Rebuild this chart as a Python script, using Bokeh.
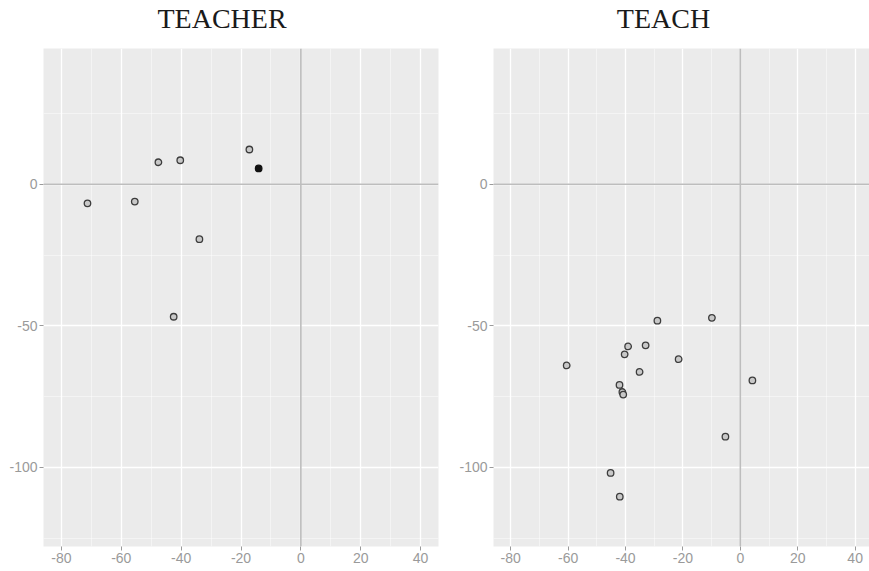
from bokeh.plotting import figure
from bokeh.layouts import row, column
from bokeh.models import FixedTicker, Span
from bokeh.core.properties import value
from bokeh.embed import file_html
from bokeh.resources import INLINE

# Panel titles
titles = ["TEACHER", "TEACH"]

# Axis ticks
x_ticks = [-80, -60, -40, -20, 0, 20, 40]
x_minor = [-70, -50, -30, -10, 10, 30]
y_ticks = [-100, -50, 0]
y_minor = [-125, -75, -25, 25]

# TEACHER coordinates
teacher_x = [-71.3, -55.5, -47.6, -40.3, -17.2, -33.9, -42.5]
teacher_y = [-6.7, -6.1, 7.8, 8.5, 12.3, -19.4, -46.8]
teacher_dark_x = [-14.1]
teacher_dark_y = [5.6]

# TEACH coordinates
teach_x = [-60.5, -45.2, -42.0, -42.1, -41.1, -40.8, -40.3, -39.1, -35.1,
           -33.0, -28.9, -21.5, -9.9, 4.2, -5.2]
teach_y = [-64.0, -102.0, -110.4, -70.9, -73.4, -74.3, -60.1, -57.3, -66.3,
           -56.9, -48.2, -61.8, -47.2, -69.3, -89.2]

PANEL_BG = "#ebebeb"
TICK_GREY = "#9a9a9a"
ZERO_GREY = "#bdbdbd"
HEAD_H = 48
FRAME_H = 498


def make_heading(title, border_left, border_right, frame_w, centre_x):
    # a plain strip above each panel that carries its heading;
    # its frame spans the same columns as the panel frame below it
    h = figure(title=None, x_range=(0, frame_w), y_range=(0, HEAD_H),
               output_backend="svg", toolbar_location=None,
               x_axis_location=None, y_axis_location=None,
               min_border_left=border_left, min_border_right=border_right,
               min_border_top=0, min_border_bottom=0)
    h.frame_width = frame_w
    h.frame_height = HEAD_H
    h.grid.visible = False
    h.outline_line_color = None
    h.background_fill_color = "white"
    h.border_fill_color = "white"
    h.text(x=[centre_x], y=[HEAD_H - 17.5], text=[title],
           text_align="center", text_baseline="alphabetic",
           text_font=value("Liberation Serif"), text_font_size="28px",
           text_color="#1a1a1a")
    return h


def make_panel(xs, ys, x_end, border_left, border_right, frame_w,
               dark_x=None, dark_y=None):
    p = figure(title=None, x_range=(-86, x_end), y_range=(-128, 48),
               output_backend="svg", toolbar_location=None,
               min_border_left=border_left, min_border_right=border_right,
               min_border_top=0, min_border_bottom=25)
    p.frame_width = frame_w
    p.frame_height = FRAME_H
    p.background_fill_color = PANEL_BG
    p.border_fill_color = "white"
    p.outline_line_color = None

    xt = FixedTicker(ticks=x_ticks, minor_ticks=x_minor)
    yt = FixedTicker(ticks=y_ticks, minor_ticks=y_minor)
    p.xaxis.ticker = xt
    p.yaxis.ticker = yt
    p.xgrid.ticker = xt
    p.ygrid.ticker = yt
    p.xaxis.major_label_overrides = {t: str(t) for t in x_ticks}
    p.yaxis.major_label_overrides = {t: str(t) for t in y_ticks}

    for ax in (p.xaxis, p.yaxis):
        ax.axis_line_color = None
        ax.major_tick_line_color = TICK_GREY
        ax.major_tick_in = 0
        ax.major_tick_out = 4
        ax.minor_tick_line_color = None
        ax.major_label_text_color = TICK_GREY
        ax.major_label_text_font = "Liberation Sans"
        ax.major_label_text_font_size = "14px"
        ax.major_label_standoff = 2

    for g in (p.xgrid, p.ygrid):
        g.grid_line_color = "white"
        g.grid_line_width = 1.3
        g.minor_grid_line_color = "white"
        g.minor_grid_line_alpha = 0.6
        g.minor_grid_line_width = 0.8

    p.add_layout(Span(location=0, dimension="height",
                      line_color=ZERO_GREY, line_width=1.6))
    p.add_layout(Span(location=0, dimension="width",
                      line_color=ZERO_GREY, line_width=1.6))

    p.scatter(xs, ys, size=6.5, marker="circle", line_color="#3c3c3c",
              line_width=1.3, fill_color="#c8c8c8")
    if dark_x is not None:
        p.scatter(dark_x, dark_y, size=6.5, marker="circle",
                  line_color="#111111", line_width=1.3, fill_color="#111111")
    return p


left = make_panel(teacher_x, teacher_y, 46, 43, 5, 395,
                  teacher_dark_x, teacher_dark_y)
right = make_panel(teach_x, teach_y, 45, 50, 0, 376)

left_head = make_heading(titles[0], 43, 5, 395, 178.5)
right_head = make_heading(titles[1], 50, 0, 376, 170)

layout = row(column(left_head, left, spacing=0),
             column(right_head, right, spacing=0), spacing=0)
open("out.html", "w").write(file_html(layout, INLINE))
